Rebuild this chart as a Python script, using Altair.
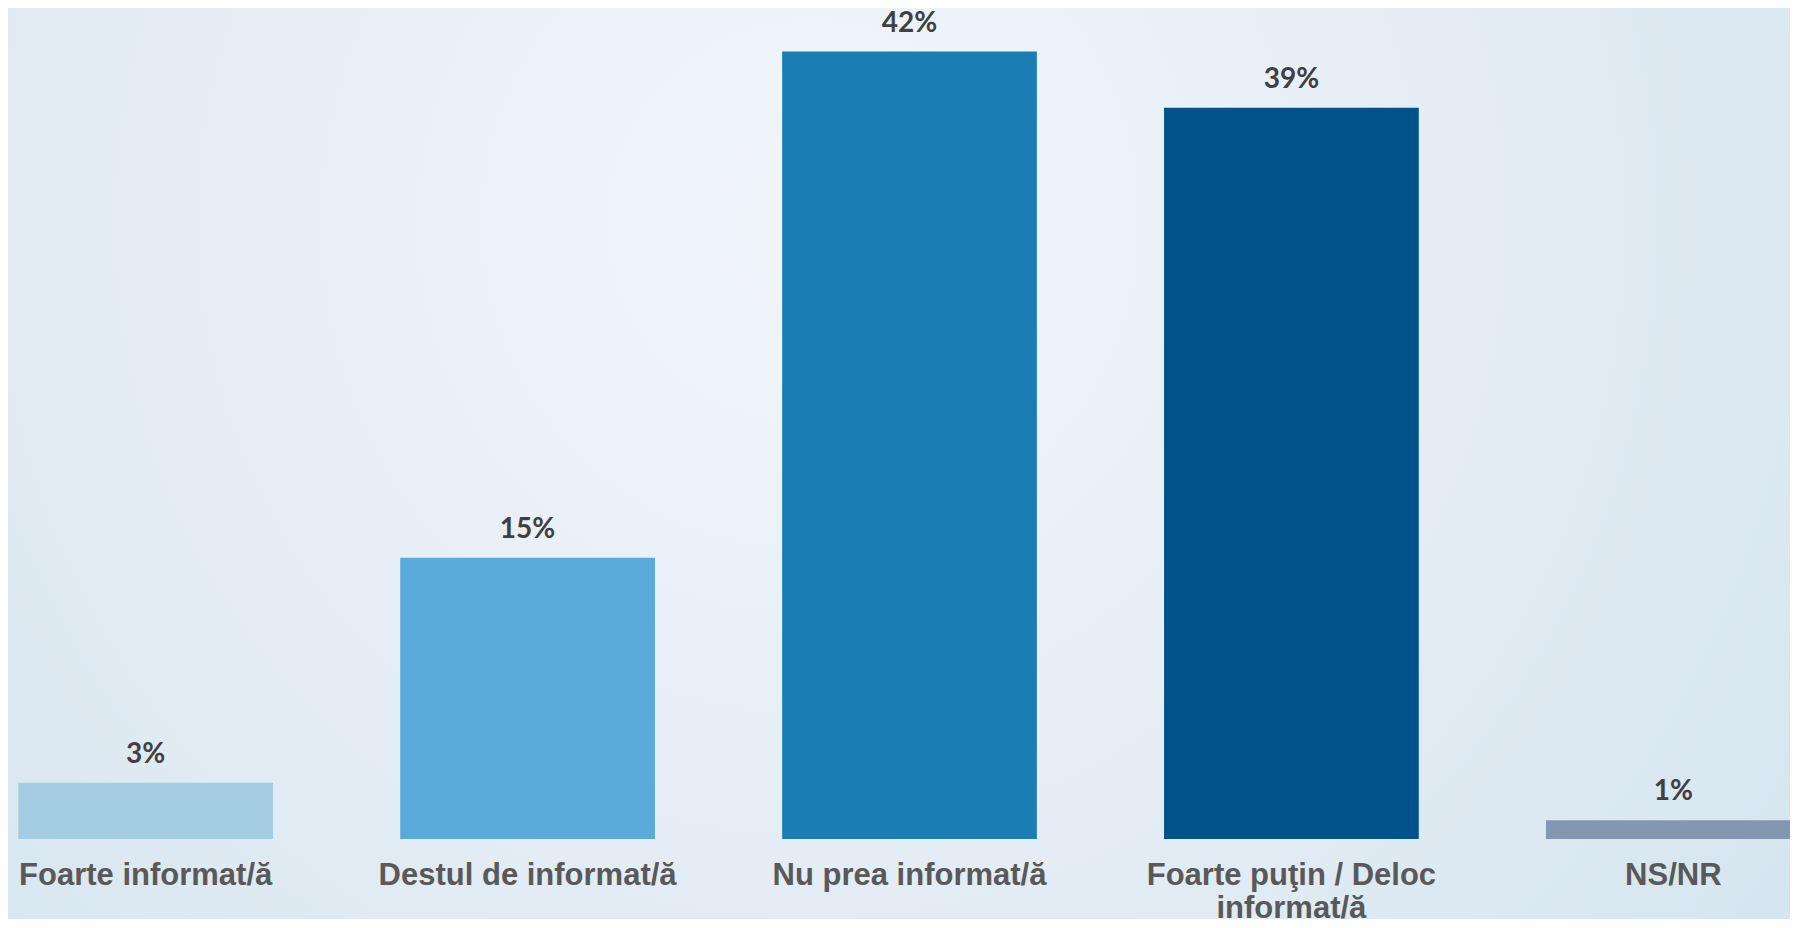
import altair as alt
import pandas as pd

categories = [
    "Foarte informat/ă",
    "Destul de informat/ă",
    "Nu prea informat/ă",
    "Foarte puţin / Deloc\ninformat/ă",
    "NS/NR",
]
values = [3, 15, 42, 39, 1]
colors = ["#a4cde3", "#5aabda", "#1a7db4", "#00538a", "#8497b0"]

df = pd.DataFrame({"cat": categories, "value": values, "color": colors})

W = 1782
H = 831

bg = alt.Chart(pd.DataFrame({"a": [0]})).mark_rect(
    color=alt.RadialGradient(
        gradient="radial",
        stops=[
            alt.GradientStop(offset=0, color="#f2f6fb"),
            alt.GradientStop(offset=0.45, color="#e6eef6"),
            alt.GradientStop(offset=1, color="#d3e4ee"),
        ],
        x1=0.45, y1=0.36, r1=0,
        x2=0.45, y2=0.36, r2=0.72,
    )
).encode(
    x=alt.value(0), x2=alt.value("width"),
    y=alt.value(0), y2=alt.value(925),
)

xscale = alt.Scale(range=[0, 1803], paddingInner=0.333, paddingOuter=0.027)

xenc = alt.X(
    "cat:N",
    sort=categories,
    title=None,
    scale=xscale,
    axis=alt.Axis(
        labelAngle=0,
        domain=False,
        ticks=False,
        labelPadding=21,
        labelFont="Liberation Sans",
        labelFontWeight="bold",
        labelFontSize=31,
        labelColor="#595959",
        labelLineHeight=33,
        labelExpr="split(datum.label, '\\n')",
        labelOverlap=False,
        labelBound=False,
        labelLimit=600,
        grid=False,
        zindex=1,
    ),
)
yenc = alt.Y(
    "value:Q",
    scale=alt.Scale(domain=[0, 44.32]),
    axis=None,
)

bars = alt.Chart(df).mark_bar().encode(
    x=xenc,
    y=yenc,
    color=alt.Color("color:N", scale=None),
)

text = alt.Chart(df).transform_calculate(
    lbl="datum.value + '%'"
).mark_text(
    dy=-20,
    baseline="alphabetic",
    font="Lato",
    fontWeight="bold",
    fontSize=28,
    color="#404040",
).encode(
    x=alt.X("cat:N", sort=categories, scale=xscale),
    y=yenc,
    text="lbl:N",
)

chart = alt.layer(bg, bars, text).properties(
    width=W,
    height=H,
    autosize=alt.AutoSizeParams(type="none"),
    padding={"left": 0, "top": 0, "right": 0, "bottom": 80},
    background="#d8e7f1",
).configure_view(stroke=None)

chart.save("out.html", embed_options={"renderer": "svg", "actions": False})
